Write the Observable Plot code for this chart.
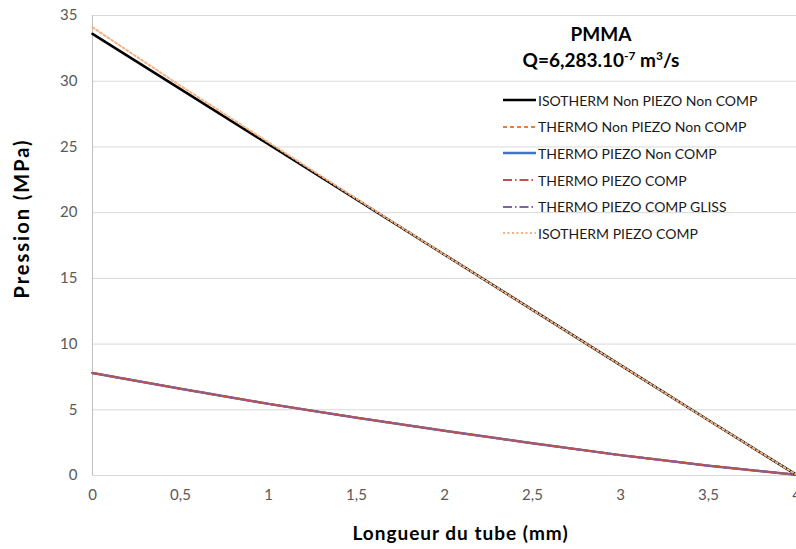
<!DOCTYPE html>
<html>
<head>
<meta charset="utf-8">
<script src="https://cdn.jsdelivr.net/npm/d3@7"></script>
<script src="https://cdn.jsdelivr.net/npm/@observablehq/plot@0.6"></script>
<style>
  body { margin: 0; background: #fff; }
  #wrap { position: relative; width: 796px; height: 549px; overflow: hidden; font-family: Lato, sans-serif; }
  #title { position: absolute; left: 491px; width: 220px; top: 21px; text-align: center; font-weight: bold; font-size: 19px; line-height: 26px; color: #000; }
  #title sup { font-size: 12px; line-height: 0; }
  #legend { position: absolute; left: 503px; top: 87px; font-size: 14px; color: #1a1a1a; }
  .row { height: 26.6px; display: flex; align-items: center; white-space: nowrap; }
  .row svg { width: 33px; height: 10px; margin-right: 2px; flex: none; }
</style>
</head>
<body>
<div id="wrap"></div>
<script>
const xs = [0, 0.5, 1, 1.5, 2, 2.5, 3, 3.5, 4];
const isoNonPiezoNonComp   = [33.6, 29.4, 25.2, 21.0, 16.8, 12.6, 8.4, 4.2, 0.05];
const thermoNonPiezoNonComp = [7.8, 6.6, 5.45, 4.4, 3.4, 2.45, 1.55, 0.75, 0.05];
const thermoPiezoNonComp   = [7.8, 6.6, 5.45, 4.4, 3.4, 2.45, 1.55, 0.75, 0.05];
const thermoPiezoComp      = [7.8, 6.6, 5.45, 4.4, 3.4, 2.45, 1.55, 0.75, 0.05];
const thermoPiezoCompGliss = [7.8, 6.6, 5.45, 4.4, 3.4, 2.45, 1.55, 0.75, 0.05];
const isoPiezoComp         = [34.1, 29.65, 25.35, 21.05, 16.8, 12.6, 8.4, 4.2, 0.05];

const seriesNames = [
  "ISOTHERM Non PIEZO Non COMP",
  "THERMO Non PIEZO Non COMP",
  "THERMO PIEZO Non COMP",
  "THERMO PIEZO COMP",
  "THERMO PIEZO COMP GLISS",
  "ISOTHERM PIEZO COMP"
];
const seriesValues = [isoNonPiezoNonComp, thermoNonPiezoNonComp, thermoPiezoNonComp, thermoPiezoComp, thermoPiezoCompGliss, isoPiezoComp];
const seriesColors = ["#000000", "#ED7D31", "#4472C4", "#C0504D", "#8064A2", "#F4B183"];
const seriesDash   = [null, "4,3", null, "9,3,1.5,3", "9,3,1.5,3", "2,2.5"];
const seriesDashOffset = [0, 0, 0, 0, 8, 0];
const seriesWidth  = [2.5, 2, 2.5, 2, 2, 2];

const yTicks = [0, 5, 10, 15, 20, 25, 30, 35];
const xTicks = [0, 0.5, 1, 1.5, 2, 2.5, 3, 3.5, 4];
const xTitle = "Longueur du tube (mm)";
const yTitle = "Pression (MPa)";

const rows = [];
seriesNames.forEach((name, i) => xs.forEach((x, j) => rows.push({series: name, i, x, y: seriesValues[i][j]})));

// draw order: orange dashed under lower lines; black under dotted
const drawOrder = [1, 2, 4, 3, 0, 5];

const chart = Plot.plot({
  width: 796,
  height: 549,
  marginLeft: 92,
  marginRight: 0,
  marginTop: 15,
  marginBottom: 74,
  style: {fontFamily: "Lato, sans-serif", fontSize: "15px", color: "#595959", overflow: "hidden", background: "transparent"},
  x: {domain: [0, 4]},
  y: {domain: [0, 35]},
  marks: [
    Plot.gridY(yTicks, {stroke: "#d9d9d9", strokeOpacity: 1}),
    Plot.ruleX([0], {stroke: "#bfbfbf"}),
    Plot.axisY(yTicks, {tickSize: 0, tickPadding: 15, label: null}),
    Plot.axisX(xTicks, {tickSize: 0, tickPadding: 14, label: null, tickFormat: d => String(d).replace(".", ",")}),
    ...drawOrder.map(i => Plot.line(rows.filter(r => r.i === i), {
      x: "x", y: "y",
      stroke: seriesColors[i],
      strokeWidth: seriesWidth[i],
      strokeDasharray: seriesDash[i],
      strokeDashoffset: seriesDashOffset[i]
    })),
    Plot.text([xTitle], {frameAnchor: "bottom", textAnchor: "middle", dx: 16, dy: 64, fontWeight: "bold", fontSize: 19, fill: "#000"}),
    Plot.text([yTitle], {frameAnchor: "left", textAnchor: "middle", lineAnchor: "middle", dx: -70, dy: -27, rotate: -90, fontWeight: "bold", fontSize: 20, fill: "#000"})
  ]
});

// slight letter spacing to match the stretched titles of the original
d3.select(chart).selectAll("text").each(function() {
  const t = this.textContent;
  if (t === xTitle) this.style.letterSpacing = "1px";
  if (t === yTitle) this.style.letterSpacing = "2px";
});

const wrap = document.getElementById("wrap");
wrap.appendChild(chart);

const title = document.createElement("div");
title.id = "title";
title.innerHTML = "PMMA<br>Q=6,283.10<sup>-7</sup> m<sup>3</sup>/s";
wrap.appendChild(title);

const legend = document.createElement("div");
legend.id = "legend";
seriesNames.forEach((name, i) => {
  const row = document.createElement("div");
  row.className = "row";
  const dash = seriesDash[i] ? `stroke-dasharray="${seriesDash[i]}"` : "";
  row.innerHTML = `<svg viewBox="0 0 33 10"><line x1="0" y1="5" x2="33" y2="5" stroke="${seriesColors[i]}" stroke-width="${seriesWidth[i]}" ${dash}/></svg><span>${name}</span>`;
  legend.appendChild(row);
});
wrap.appendChild(legend);
</script>
</body>
</html>
